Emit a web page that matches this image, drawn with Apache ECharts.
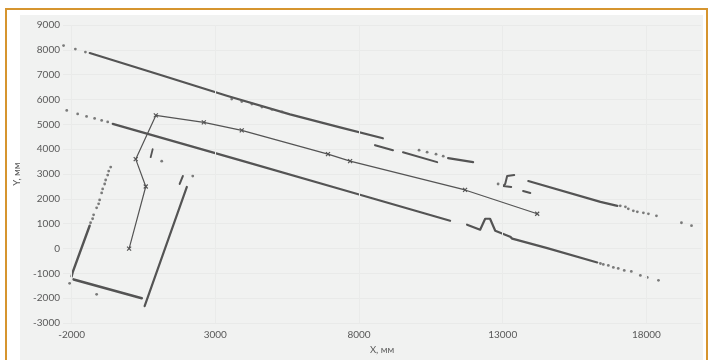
<!DOCTYPE html>
<html>
<head>
<meta charset="utf-8">
<script src="https://cdn.jsdelivr.net/npm/echarts@6/dist/echarts.min.js"></script>
<style>
  html, body { margin: 0; padding: 0; background: #ffffff; }
  #wrap { position: relative; width: 710px; height: 360px; overflow: hidden; }
  #frame { position: absolute; left: 5px; top: 8px; width: 699px; height: 360px;
           border: 2px solid #d6952f; border-bottom: none; }
  #chart { position: absolute; left: 0; top: 0; width: 710px; height: 360px; }
</style>
</head>
<body>
<div id="wrap">
  <div id="frame"></div>
  <div id="chart"></div>
</div>
<script>
// Axis tick labels
const xTicks = [-2000, 3000, 8000, 13000, 18000];
const yTicks = [-3000, -2000, -1000, 0, 1000, 2000, 3000, 4000, 5000, 6000, 7000, 8000, 9000];

// Vehicle path, mm
const trajectory = [
  [0, 0], [580, 2500], [230, 3600], [930, 5360], [2600, 5080], [3920, 4760],
  [6920, 3800], [7690, 3520], [11690, 2360], [14200, 1400]
];

// Continuous wall traces (scan points merged into polylines), mm
const upperWall = [[-1370, 7870], [1070, 7000], [3400, 6150], [5600, 5400], [7340, 4880], [8830, 4440]];
const upperWall2 = [[8560, 4160], [9180, 3960]];
const upperWall3 = [[9530, 3880], [10720, 3480]];
const upperWall4 = [[11100, 3640], [11970, 3480]];
const upperBracket = [[13400, 2960], [13155, 2920], [13086, 2600], [13016, 2520], [13295, 2480]];
const upperDash = [[13710, 2320], [13960, 2240]];
const upperWall5 = [[13890, 2720], [16400, 1880], [16990, 1720]];

const lowerWall = [[-570, 5020], [3850, 3560], [7340, 2400], [11170, 1120]];
const lowerWall2 = [[11760, 960], [12215, 760], [12390, 1200], [12560, 1200], [12740, 720],
                    [13260, 480], [13330, 400], [14550, 20], [16290, -560]];

const roomLeft = [[-1373, 920], [-1965, -960], [-2000, -1120]];
const roomBottom = [[-1930, -1240], [440, -2000]];
const roomRight = [[540, -2320], [2010, 2480]];
const roomMark1 = [[1760, 2600], [1870, 2920]];
const roomMark2 = [[820, 4000], [750, 3680]];

// Isolated scan points, mm
const scanPoints = [
  // upper wall, left end
  [-2280, 8170], [-1870, 8030], [-1520, 7910],
  // denser returns below the upper wall
  [3570, 6020], [3920, 5920], [4270, 5820], [4620, 5700], [4970, 5600], [5320, 5500],
  // above the broken section
  [10090, 3960], [10370, 3880], [10680, 3800], [10930, 3720],
  [12840, 2600],
  // upper wall, right end
  [17090, 1720], [17270, 1680], [17370, 1600], [17545, 1520], [17685, 1480],
  [17895, 1440], [18070, 1400], [18350, 1320], [19220, 1040], [19570, 920],
  // lower wall, left end
  [-2170, 5560], [-1790, 5420], [-1480, 5320], [-1200, 5240], [-955, 5160], [-745, 5100],
  // lower wall, right end
  [16400, -600], [16500, -640], [16675, -680], [16850, -760], [17020, -800],
  [17230, -880], [17475, -920], [17790, -1080], [18030, -1160], [18420, -1280],
  // room, left wall upper part
  [-640, 3280], [-710, 3120], [-745, 2960], [-815, 2760], [-850, 2600], [-920, 2400],
  [-955, 2240], [-1025, 1960], [-1060, 1800], [-1130, 1640], [-1235, 1360],
  [-1270, 1200], [-1340, 1040],
  // room, strays
  [-2070, -1400], [-1130, -1840], [2215, 2920], [1135, 3520]
];

const ink = '#545454';
const font = 'Lato, "Open Sans", sans-serif';
const plain = v => String(v);

function wall(data, width) {
  return {
    type: 'line', data: data, showSymbol: false, symbol: 'none', silent: true,
    lineStyle: { color: ink, width: width || 2.2, cap: 'round', join: 'round' },
    z: 3
  };
}

const chart = echarts.init(document.getElementById('chart'), null, { renderer: 'canvas' });

chart.setOption({
  animation: false,
  backgroundColor: 'transparent',
  graphic: [{
    type: 'rect', z: -10, silent: true,
    shape: { x: 20, y: 15, width: 683, height: 345 },
    style: { fill: '#f1f2f1' }
  }],
  grid: { left: 63, right: 9, top: 25, bottom: 35 },
  xAxis: {
    type: 'value', min: -2300, max: 19900,
    name: 'X, мм', nameLocation: 'middle', nameGap: 17,
    nameTextStyle: { color: '#595959', fontSize: 9.5, fontFamily: font },
    axisLine: { show: false }, axisTick: { show: false },
    splitLine: { show: false },
    axisLabel: { customValues: xTicks, formatter: plain, color: '#595959', fontSize: 10, fontFamily: font, margin: 7 }
  },
  yAxis: {
    type: 'value', min: yTicks[0], max: yTicks[yTicks.length - 1], interval: 1000,
    name: 'Y, мм', nameLocation: 'middle', nameGap: 30, nameRotate: 90,
    nameTextStyle: { color: '#595959', fontSize: 9.5, fontFamily: font },
    axisLine: { show: false }, axisTick: { show: false },
    splitLine: { show: true, lineStyle: { color: '#e9eae9', width: 1 } },
    axisLabel: { formatter: plain, color: '#595959', fontSize: 10, fontFamily: font, margin: 3 }
  },
  series: [
    {
      type: 'scatter', data: [], silent: true,
      markLine: {
        silent: true, symbol: 'none', label: { show: false },
        lineStyle: { color: '#eaebea', width: 1, type: 'solid' },
        data: xTicks.map(v => ({ xAxis: v }))
      }
    },
    wall(upperWall), wall(upperWall2), wall(upperWall3, 2), wall(upperWall4),
    wall(upperBracket, 2), wall(upperDash, 2), wall(upperWall5),
    wall(lowerWall), wall(lowerWall2),
    wall(roomLeft, 2.4), wall(roomBottom, 2.6), wall(roomRight, 2.2),
    wall(roomMark1, 2), wall(roomMark2, 1.8),
    {
      type: 'scatter', data: scanPoints, symbol: 'circle', symbolSize: 2.8, silent: true,
      itemStyle: { color: '#5c5c5c' }, z: 4
    },
    {
      type: 'line', data: trajectory, silent: true,
      symbol: 'path://M0,0L10,10M10,0L0,10', symbolSize: 4, showSymbol: true,
      lineStyle: { color: ink, width: 1.2 },
      itemStyle: { color: ink, borderColor: ink, borderWidth: 1.2 },
      z: 5
    }
  ]
});
</script>
</body>
</html>
